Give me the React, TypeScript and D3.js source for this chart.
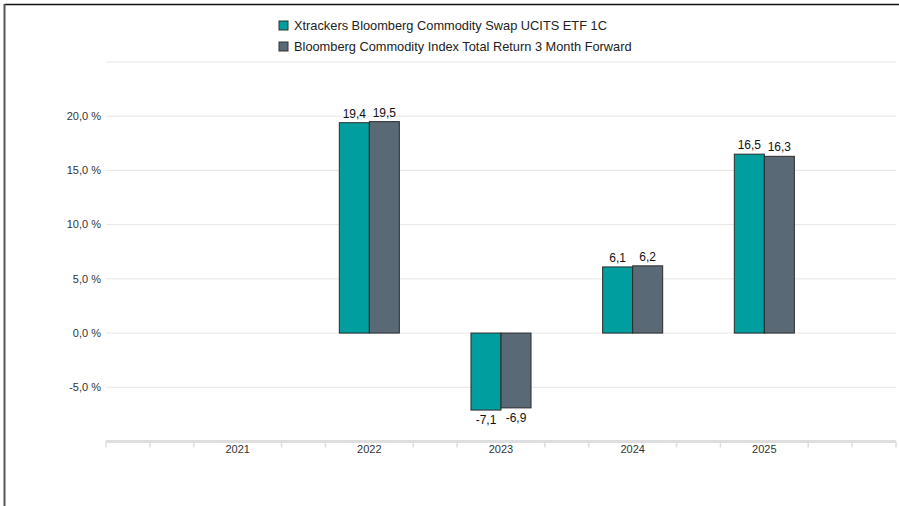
import * as d3 from "d3";
import { useEffect } from "react";

const years = ["2021", "2022", "2023", "2024", "2025"];
const etfValues = [null, 19.4, -7.1, 6.1, 16.5];
const indexValues = [null, 19.5, -6.9, 6.2, 16.3];
const seriesNames = [
  "Xtrackers Bloomberg Commodity Swap UCITS ETF 1C",
  "Bloomberg Commodity Index Total Return 3 Month Forward",
];
const seriesColors = ["#009e9e", "#596a76"];
const yTicks = [-5, 0, 5, 10, 15, 20];

const WIDTH = 899;
const HEIGHT = 506;
const PLOT = { left: 106, right: 896, top: 62, bottom: 441.5 };
const FONT = "'Liberation Sans', Arial, sans-serif";

// comma decimals and a plain hyphen for negatives, as in the source
const fmt = (v: number) => d3.format(".1f")(v).replace(".", ",").replace("\u2212", "-");

function BarChart() {
  const x0 = d3.scaleBand<string>()
    .domain(years)
    .range([PLOT.left, PLOT.right])
    .paddingInner(0)
    .paddingOuter(0.5);

  const y = d3.scaleLinear().domain([-10, 25]).range([PLOT.bottom, PLOT.top]);

  const groupWidth = x0.step() * 0.456;
  const x1 = d3.scaleBand<number>().domain([0, 1]).range([0, groupWidth]);

  // minor ticks every third of a category, skipped under the labels
  const tickStep = x0.step() / 3;
  const tickPos = d3.range(0, 19)
    .filter((k) => k === 0 || k === 18 || k % 3 !== 0)
    .map((k) => PLOT.left + k * tickStep);

  const rows = years.map((yr, i) => ({ yr, vals: [etfValues[i], indexValues[i]] }));

  return (
    <svg width={WIDTH} height={HEIGHT} style={{ display: "block", fontFamily: FONT }}>
      <rect width={WIDTH} height={HEIGHT} fill="#fff" />
      {/* frame */}
      <line x1={4.5} x2={WIDTH} y1={4.5} y2={4.5} stroke="#111" strokeWidth={1.6} />
      <line x1={4.5} x2={4.5} y1={4} y2={HEIGHT} stroke="#555" strokeWidth={2} />

      {/* legend */}
      {seriesNames.map((name, i) => (
        <g key={name} transform={`translate(279,${21 + i * 21})`}>
          <rect width={9} height={9} fill={seriesColors[i]} stroke="#333" strokeWidth={1} />
          <text x={15} y={4.5} dy="0.35em" fontSize={12.8} fill="#222">{name}</text>
        </g>
      ))}

      {/* grid */}
      {[...yTicks, 25].map((t) => (
        <line key={t} x1={PLOT.left} x2={PLOT.right} y1={y(t)} y2={y(t)} stroke="#e6e6e6" strokeWidth={1} />
      ))}
      {yTicks.map((t) => (
        <text key={t} x={101} y={y(t)} dy="0.35em" textAnchor="end" fontSize={11} fill="#333">
          {fmt(t)} %
        </text>
      ))}

      {/* x axis */}
      <line x1={PLOT.left} x2={PLOT.right} y1={PLOT.bottom} y2={PLOT.bottom} stroke="#dedede" strokeWidth={3} />
      {tickPos.map((p, i) => (
        <line key={i} x1={p} x2={p} y1={PLOT.bottom} y2={PLOT.bottom + 6} stroke="#dedede" strokeWidth={1.5} />
      ))}
      {years.map((yr) => (
        <text key={yr} x={x0(yr)! + x0.bandwidth() / 2} y={449} dy="0.35em" textAnchor="middle" fontSize={11} fill="#333">
          {yr}
        </text>
      ))}

      {/* bars */}
      {rows.map((r) => {
        const gx = x0(r.yr)! + x0.bandwidth() / 2 - groupWidth / 2;
        return (
          <g key={r.yr} transform={`translate(${gx},0)`}>
            {r.vals.map((v, j) => {
              if (v == null) return null;
              const top = y(Math.max(0, v));
              const h = Math.abs(y(v) - y(0));
              const cx = x1(j)! + x1.bandwidth() / 2;
              return (
                <g key={j}>
                  <rect x={x1(j)} y={top} width={x1.bandwidth()} height={h}
                    fill={seriesColors[j]} stroke="#2b2b2b" strokeWidth={1} />
                  <text x={cx} y={v >= 0 ? y(v) - 5 : y(v) + 14} textAnchor="middle" fontSize={12} fill="#111">
                    {fmt(v)}
                  </text>
                </g>
              );
            })}
          </g>
        );
      })}
    </svg>
  );
}

export default function App() {
  useEffect(() => {
    document.body.style.margin = "0";
  }, []);
  return <BarChart />;
}
